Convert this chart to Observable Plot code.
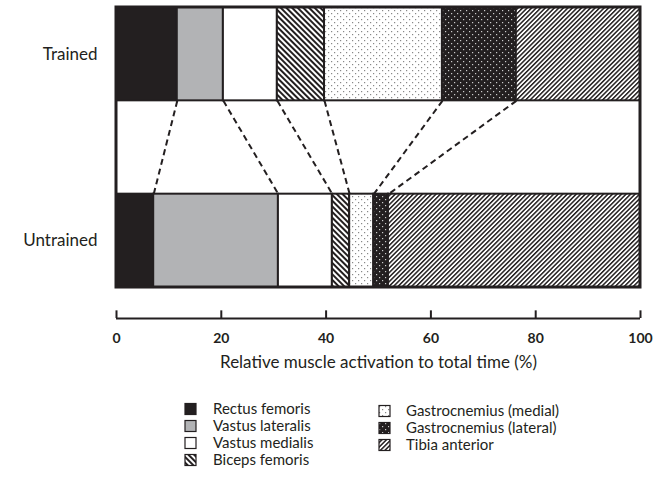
<!DOCTYPE html>
<html><head><meta charset="utf-8">
<script src="https://cdn.jsdelivr.net/npm/d3@7"></script>
<script src="https://cdn.jsdelivr.net/npm/@observablehq/plot@0.6"></script>
<style>
body{margin:0;background:#fff;font-family:Lato,sans-serif}
#chart svg{display:block}
</style>
</head><body><div id="chart"></div>
<script>
const groups = ["Trained", "Untrained"];
const muscles = ["Rectus femoris", "Vastus lateralis", "Vastus medialis", "Biceps femoris",
  "Gastrocnemius (medial)", "Gastrocnemius (lateral)", "Tibia anterior"];
const trainedValues = [11.6, 8.8, 10.3, 9.0, 22.5, 14.1, 23.7];
const untrainedValues = [7.1, 23.8, 10.3, 3.3, 4.6, 2.8, 48.1];
const xTicks = [0, 20, 40, 60, 80, 100];
const xLabel = "Relative muscle activation to total time (%)";

const INK = "#231f20";
const fills = [INK, "#b2b3b5", "#ffffff", "url(#pBF)", "url(#pGM)", "url(#pGL)", "url(#pTA)"];

const series = [trainedValues, untrainedValues];
const cum = series.map(vals => { let s = 0; return [0, ...vals.map(v => s += v)]; });
const rows = [];
groups.forEach((g, gi) => muscles.forEach((m, mi) => rows.push({
  group: g, muscle: m, x1: cum[gi][mi], x2: cum[gi][mi + 1], y1: gi * 2, y2: gi * 2 + 1
})));
const links = muscles.slice(0, -1).map((m, i) => ({x1: cum[0][i + 1], x2: cum[1][i + 1]}));

const AXIS_Y = 3.332;

const plot = Plot.plot({
  width: 654, height: 380,
  marginLeft: 116, marginRight: 14, marginTop: 7, marginBottom: 62,
  style: {fontFamily: "Lato, sans-serif", fontSize: "13px", color: INK, background: "white"},
  x: {domain: [0, 100]},
  y: {domain: [0, AXIS_Y], reverse: true, axis: null},
  color: {domain: muscles, range: fills},
  marks: [
    Plot.rect([0], {x1: 0, x2: 100, y1: 0, y2: 3, fill: "white"}),
    Plot.rect(rows, {x1: "x1", x2: "x2", y1: "y1", y2: "y2", fill: "muscle", stroke: INK, strokeWidth: 2}),
    Plot.link(links, {x1: "x1", x2: "x2", y1: 1, y2: 2, stroke: INK, strokeWidth: 2, strokeDasharray: "6,4"}),
    Plot.rect([0], {x1: 0, x2: 100, y1: 0, y2: 3, fill: "none", stroke: INK, strokeWidth: 3}),
    Plot.text(groups, {x: 0, y: (d, i) => i * 2 + 0.5, text: d => d, textAnchor: "end", dx: -19, fontSize: 17, fill: INK}),
    Plot.ruleY([AXIS_Y], {x1: 0, x2: 100, stroke: INK, strokeWidth: 2}),
    Plot.ruleX(xTicks, {x: d => d, y1: 3.25, y2: AXIS_Y, stroke: INK, strokeWidth: 2}),
    Plot.axisX(xTicks, {tickSize: 0, tickPadding: 15, fontWeight: "bold", fontSize: 14, label: null}),
    Plot.text([xLabel], {frameAnchor: "bottom", dy: 49, fontSize: 17, fill: INK})
  ]
});

const defsMarkup = `
<pattern id="pBF" width="4" height="4" patternUnits="userSpaceOnUse" patternTransform="rotate(-45)">
  <rect width="4" height="4" fill="white"/><rect width="2" height="4" fill="${INK}"/></pattern>
<pattern id="pTA" width="3.2" height="4" patternUnits="userSpaceOnUse" patternTransform="rotate(45)">
  <rect width="3.2" height="4" fill="white"/><rect width="1.5" height="4" fill="${INK}"/></pattern>
<pattern id="pGM" width="6" height="6" patternUnits="userSpaceOnUse">
  <rect width="6" height="6" fill="white"/><rect x="1" y="1" width="1.2" height="1.2" fill="#888"/><rect x="4" y="4" width="1.2" height="1.2" fill="#888"/></pattern>
<pattern id="pGL" width="6" height="6" patternUnits="userSpaceOnUse">
  <rect width="6" height="6" fill="${INK}"/><rect x="1" y="1" width="1.2" height="1.2" fill="#ccc"/><rect x="4" y="4" width="1.2" height="1.2" fill="#ccc"/></pattern>`;
const defs = document.createElementNS("http://www.w3.org/2000/svg", "defs");
defs.innerHTML = defsMarkup;
plot.insertBefore(defs, plot.firstChild);
document.getElementById("chart").appendChild(plot);

// Legend below the plot
const legend = d3.select("#chart").append("svg").attr("width", 654).attr("height", 100)
  .style("font-family", "Lato, sans-serif");
const leftCol = muscles.slice(0, 4), rightCol = muscles.slice(4);
const cols = [{items: leftCol, offset: 0, sx: 185, tx: 213, y0: 29}, {items: rightCol, offset: 4, sx: 379, tx: 406, y0: 31}];
cols.forEach(c => {
  const g = legend.selectAll(null).data(c.items).enter().append("g")
    .attr("transform", (d, i) => `translate(0,${c.y0 + i * 17})`);
  g.append("rect").attr("x", c.sx).attr("y", -5.5).attr("width", 11).attr("height", 11)
    .attr("fill", (d, i) => fills[c.offset + i]).attr("stroke", INK).attr("stroke-width", 1.2);
  g.append("text").attr("x", c.tx).attr("y", 0).attr("dy", "0.35em").attr("font-size", 15)
    .attr("fill", INK).text(d => d);
});
</script>
</body></html>
